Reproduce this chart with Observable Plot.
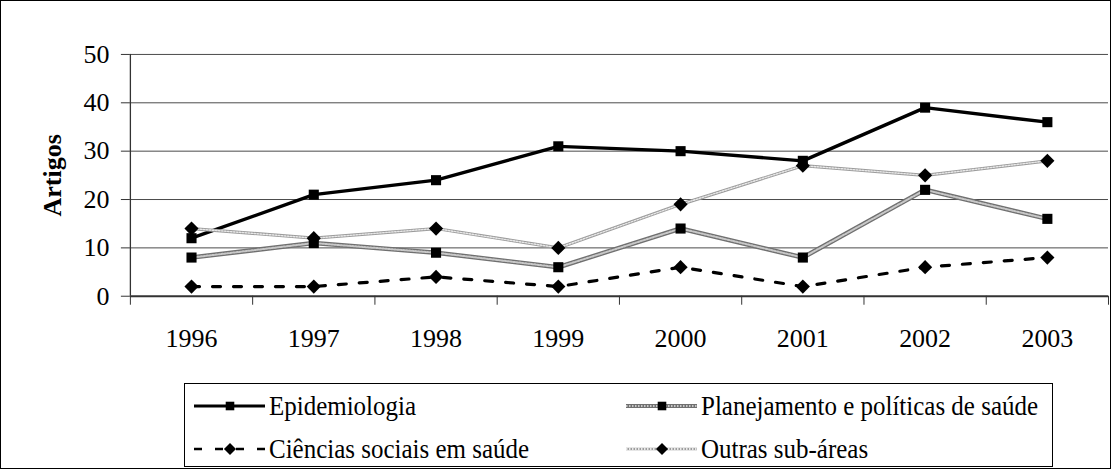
<!DOCTYPE html>
<html><head><meta charset="utf-8">
<script src="https://cdn.jsdelivr.net/npm/d3@7"></script>
<script src="https://cdn.jsdelivr.net/npm/@observablehq/plot@0.6"></script>
<style>
body{margin:0;background:#fff;}
#frame{position:relative;width:1111px;height:469px;box-sizing:border-box;border:1px solid #000;background:#fff;overflow:hidden;font-family:"Liberation Serif","Times New Roman",serif;}
#chart{position:absolute;left:-1px;top:-1px;}
#legend{position:absolute;left:183px;top:382px;width:869px;height:84px;box-sizing:border-box;border:1px solid #000;background:#fff;}
.item{position:absolute;display:flex;align-items:center;color:#000;height:30px;white-space:nowrap;}
.item svg{flex:none;}
.item span{display:inline-block;font-size:27px;transform:scaleX(0.925);transform-origin:left center;margin-left:4px;}
</style></head><body>
<div id="frame"><div id="chart"></div><div id="legend"></div></div>
<script>
const years = [1996, 1997, 1998, 1999, 2000, 2001, 2002, 2003];
const epidemiologia = [12, 21, 24, 31, 30, 28, 39, 36];
const planejamento = [8, 11, 9, 6, 14, 8, 22, 16];
const ciencias = [2, 2, 4, 2, 6, 2, 6, 8];
const outras = [14, 12, 14, 10, 19, 27, 25, 28];
const seriesNames = ["Epidemiologia", "Planejamento e políticas de saúde", "Ciências sociais em saúde", "Outras sub-áreas"];
const yTicks = [0, 10, 20, 30, 40, 50];
const yLabel = "Artigos";

const styles = [
  {values: epidemiologia, layers: [{stroke: "#000", strokeWidth: 3.4}], symbol: "square", r: 5.7},
  {values: planejamento, layers: [{stroke: "#707070", strokeWidth: 4.6}, {stroke: "#c8c8c8", strokeWidth: 2, strokeDasharray: "1.5,1.5"}], symbol: "square", r: 5.7},
  {values: ciencias, layers: [{stroke: "#000", strokeWidth: 3.2, strokeDasharray: "8,13"}], symbol: "diamond2", r: 6.4},
  {values: outras, layers: [{stroke: "#9c9c9c", strokeWidth: 3.2}, {stroke: "#e8e8e8", strokeWidth: 1.4, strokeDasharray: "1.5,1.5"}], symbol: "diamond2", r: 6.4}
];

const xDomain = [years[0] - 0.5, years[years.length - 1] + 0.5];
const boundaries = years.map(y => y - 0.5).concat([xDomain[1]]);

const marks = [
  Plot.ruleY(yTicks.slice(1), {stroke: "#4a4a4a", strokeWidth: 1}),
  Plot.axisY({ticks: yTicks, tickSize: 9, tickPadding: 12, fontSize: 26, label: null, stroke: "#333"}),
  Plot.axisX({ticks: boundaries, tickSize: 9, tickFormat: () => "", label: null, stroke: "#333"}),
  Plot.axisX({ticks: years, tickSize: 0, tickPadding: 32, fontSize: 26, label: null, tickFormat: d => String(d)}),
  Plot.ruleX([xDomain[0]], {stroke: "#333", strokeWidth: 1.3}),
  Plot.ruleY([0], {stroke: "#333", strokeWidth: 1.8}),
  Plot.text([yLabel], {frameAnchor: "left", textAnchor: "middle", lineAnchor: "middle", rotate: -90, dx: -78, fontWeight: "bold", fontSize: 26, fill: "#000"})
];
styles.forEach((s, i) => {
  const data = years.map((year, j) => ({year, value: s.values[j], series: seriesNames[i]}));
  s.layers.forEach(l => marks.push(Plot.line(data, {x: "year", y: "value", ...l})));
  marks.push(Plot.dot(data, {x: "year", y: "value", symbol: s.symbol, r: s.r, fill: "#000", stroke: "none"}));
});

const chart = Plot.plot({
  width: 1111, height: 380,
  marginLeft: 130, marginRight: 2, marginTop: 54, marginBottom: 84,
  style: {fontFamily: "'Liberation Serif','Times New Roman',serif", fontSize: "26px", color: "#000", background: "transparent"},
  x: {type: "linear", domain: xDomain},
  y: {domain: [yTicks[0], yTicks[yTicks.length - 1]]},
  marks
});
document.getElementById("chart").appendChild(chart);

// Legend
const legend = document.getElementById("legend");
const pos = [[9, 7], [441, 7], [9, 50], [441, 50]];
const ns = "http://www.w3.org/2000/svg";
styles.forEach((s, i) => {
  const item = document.createElement("div");
  item.className = "item";
  item.style.left = pos[i][0] + "px";
  item.style.top = pos[i][1] + "px";
  const svg = document.createElementNS(ns, "svg");
  svg.setAttribute("width", 71); svg.setAttribute("height", 30);
  s.layers.forEach(l => {
    const ln = document.createElementNS(ns, "line");
    ln.setAttribute("x1", 0); ln.setAttribute("x2", 71); ln.setAttribute("y1", 15); ln.setAttribute("y2", 15);
    ln.setAttribute("stroke", l.stroke); ln.setAttribute("stroke-width", Math.max(2, l.strokeWidth * 0.85));
    if (l.strokeDasharray) ln.setAttribute("stroke-dasharray", l.strokeDasharray);
    svg.appendChild(ln);
  });
  const sym = s.symbol === "square" ? d3.symbolSquare : d3.symbolDiamond2;
  const p = document.createElementNS(ns, "path");
  p.setAttribute("d", d3.symbol(sym, Math.PI * (s.r * 0.85) ** 2)());
  p.setAttribute("transform", "translate(36,15)");
  p.setAttribute("fill", "#000");
  svg.appendChild(p);
  item.appendChild(svg);
  const t = document.createElement("span");
  t.textContent = seriesNames[i];
  item.appendChild(t);
  legend.appendChild(item);
});
</script>
</body></html>
